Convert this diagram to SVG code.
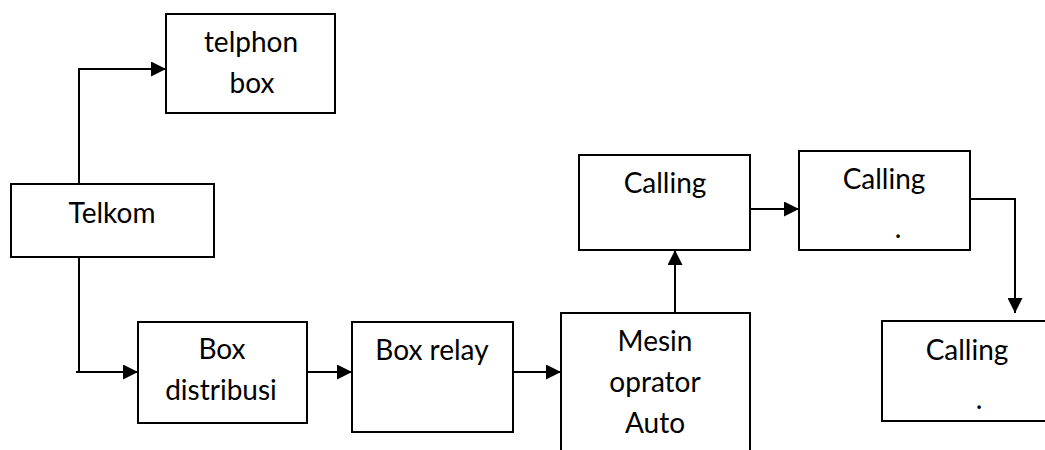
<svg xmlns="http://www.w3.org/2000/svg" width="1045" height="450" viewBox="0 0 1045 450">
<style>
  .box { fill: #fff; stroke: #000; stroke-width: 2; }
  .lbl { font-family: Lato, "Liberation Sans", sans-serif; font-size: 28px; fill: #000; text-anchor: middle; }
  .con { fill: none; stroke: #000; stroke-width: 2; }
</style>
<defs>
  <marker id="arr" viewBox="0 0 10 10" refX="10" refY="5" markerWidth="16" markerHeight="15" markerUnits="userSpaceOnUse" orient="auto">
    <path d="M0,0 L10,5 L0,10 Z" fill="#000"/>
  </marker>
</defs>
<rect width="1045" height="450" fill="#fff"/>
<g id="telphon-box">
  <rect class="box" x="166" y="14" width="169" height="99"/>
  <text class="lbl" x="251" y="52">telphon</text>
  <text class="lbl" x="252" y="93">box</text>
</g>
<g id="telkom">
  <rect class="box" x="11" y="184" width="203" height="73"/>
  <text class="lbl" x="112" y="223">Telkom</text>
</g>
<g id="box-distribusi">
  <rect class="box" x="138" y="322" width="169" height="101"/>
  <text class="lbl" x="222" y="359">Box</text>
  <text class="lbl" x="221" y="400">distribusi</text>
</g>
<g id="box-relay">
  <rect class="box" x="352" y="322" width="161" height="110"/>
  <text class="lbl" x="432" y="360">Box relay</text>
</g>
<g id="mesin">
  <rect class="box" x="561" y="313" width="189" height="150"/>
  <text class="lbl" x="655" y="351">Mesin</text>
  <text class="lbl" x="655" y="392">oprator</text>
  <text class="lbl" x="655" y="433">Auto</text>
</g>
<g id="calling1">
  <rect class="box" x="579" y="155" width="171" height="95"/>
  <text class="lbl" x="665" y="193">Calling</text>
</g>
<g id="calling2">
  <rect class="box" x="799" y="151" width="171" height="99"/>
  <text class="lbl" x="884" y="189">Calling</text>
  <text class="lbl" x="898" y="238">.</text>
</g>
<g id="calling3">
  <rect class="box" x="882" y="321" width="180" height="100"/>
  <text class="lbl" x="967" y="360">Calling</text>
  <text class="lbl" x="979" y="409">.</text>
</g>
<g id="connectors">
  <polyline class="con" points="79,184 79,69 166,69" marker-end="url(#arr)"/>
  <polyline class="con" points="79,257 79,372 138,372" marker-end="url(#arr)"/>
  <line class="con" x1="76" y1="372" x2="79" y2="372"/>
  <line class="con" x1="307" y1="372" x2="352" y2="372" marker-end="url(#arr)"/>
  <line class="con" x1="513" y1="372" x2="561" y2="372" marker-end="url(#arr)"/>
  <line class="con" x1="675" y1="313" x2="675" y2="250" marker-end="url(#arr)"/>
  <line class="con" x1="750" y1="209" x2="799" y2="209" marker-end="url(#arr)"/>
  <polyline class="con" points="970,199 1015,199 1015,313" marker-end="url(#arr)"/>
</g>
</svg>
